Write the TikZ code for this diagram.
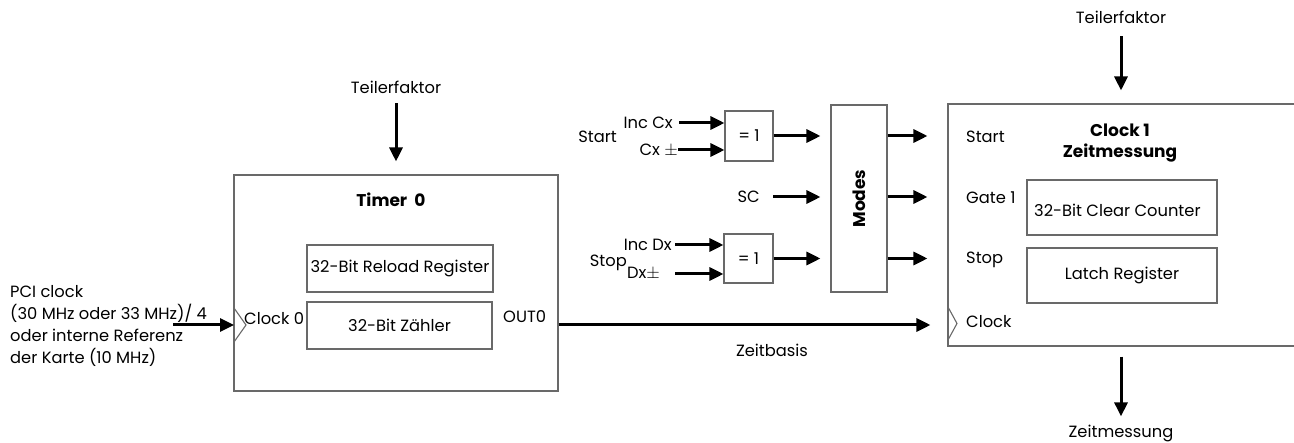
\documentclass[tikz,border=0pt]{standalone}
\usepackage{fontspec}
\setmainfont{Poppins}
\usetikzlibrary{arrows.meta,positioning}
\definecolor{frameGray}{RGB}{105,105,105}

\begin{document}
\begin{tikzpicture}[
        x=1pt, y=-1pt,
        font=\fontsize{16.3}{22}\selectfont,
        box/.style={draw=frameGray, line width=1.1pt, inner sep=0pt, align=center},
        lbl/.style={inner sep=0pt, align=left},
        title/.style={inner sep=0pt, align=center, font=\fontsize{17}{21}\selectfont\bfseries},
        arrow/.style={-{Triangle[length=14pt,width=13pt]}, line width=3pt, black}
      ]
        \useasboundingbox (0,0) rectangle (1294,443);

        \node[box, minimum width=324pt, minimum height=216pt] (timer) at (396,283) {};
        \node[title] (timerT) at (391,200) {Timer\ \ 0};
        \node[box, minimum width=186pt, minimum height=47pt] (reload) at (400,268.5) {32-Bit Reload Register};
        \node[box, minimum width=185pt, minimum height=47pt] (zaehler) at (399.5,325.5) {32-Bit Zähler};
        \node[lbl, anchor=west] (clk0) at (244,319) {Clock 0};
        \node[lbl, anchor=west] (out0) at (503,317) {OUT0};
        \node[lbl] (teilA) at (396,87) {Teilerfaktor};
        \node[lbl, anchor=west] (pci) at (10,326) {PCI clock\\(30 MHz oder 33 MHz)/ 4\\oder interne Referenz\\der Karte (10 MHz)};
        \coordinate (pciStart) at (173,325);
        \coordinate (clkIn) at (234,325);
        \draw[frameGray, line width=1.1pt] (234,308) -- (246,325) -- (234,342);

        \node[box, minimum width=48pt, minimum height=50pt] (xorA) at (749,136) {= 1};
        \node[box, minimum width=49pt, minimum height=49pt] (xorB) at (748.5,258.5) {= 1};
        \node[box, minimum width=56pt, minimum height=187pt] (modes) at (859,198.5) {};
        \node[title, rotate=90] (modesT) at (modes.center) {Modes};
        \node[lbl, anchor=east] (startL) at (617,137) {Start};
        \node[lbl, anchor=east] (incCx) at (673,123) {Inc Cx};
        \node[lbl, anchor=east] (cxPM) at (678,150) {Cx $\pm$};
        \node[lbl, anchor=east] (scL) at (760,197) {SC};
        \node[lbl, anchor=east] (stopL) at (627,263) {Stop};
        \node[lbl, anchor=east] (incDx) at (672,245) {Inc Dx};
        \node[lbl, anchor=east] (dxPM) at (660,274) {Dx$\pm$};

        \node[box, minimum width=360pt, minimum height=242pt] (clock1) at (1128,225) {};
        \node[title] (clk1T) at (1120,143.5) {Clock 1\\Zeitmessung};
        \node[lbl, anchor=west] (startR) at (966,137) {Start};
        \node[lbl, anchor=west] (gateR) at (966,198) {Gate 1};
        \node[lbl, anchor=west] (stopR) at (966,260) {Stop};
        \node[lbl, anchor=west] (clkR) at (966,322) {Clock};
        \node[box, minimum width=190pt, minimum height=55pt] (counter) at (1122,207.5) {};
        \node[lbl, anchor=west] (counterT) at (1034,210) {32-Bit Clear Counter};
        \node[box, minimum width=190pt, minimum height=55pt] (latch) at (1122,275.5) {Latch Register};
        \draw[frameGray, line width=1.1pt] (948,307) -- (957,323.5) -- (948,340);
        \node[lbl] (teilB) at (1121,17) {Teilerfaktor};
        \node[lbl] (zeitm) at (1121,433) {Zeitmessung};
        \node[lbl] (zeitbasis) at (772,350) {Zeitbasis};

        \draw[arrow, shorten <=10pt, shorten >=13pt] (teilA.south) -- (teilA.south |- timer.north);
        \draw[arrow] (pciStart) -- (clkIn);
        \draw[arrow, shorten >=17pt] (timer.east |- clkIn) -- (clock1.west |- clkIn);
        \draw[arrow] ([xshift=6pt]incCx.east) -- (incCx.east -| xorA.west);
        \draw[arrow] (cxPM.east) -- (cxPM.east -| xorA.west);
        \draw[arrow] ([xshift=3pt]incDx.east) -- (incDx.east -| xorB.west);
        \draw[arrow] ([xshift=15pt]dxPM.east) -- (dxPM.east -| xorB.west);
        \draw[arrow, shorten >=10pt] (xorA.east) -- (xorA.east -| modes.west);
        \draw[arrow, shorten >=10pt] ([xshift=13pt]scL.east) -- (scL.east -| modes.west);
        \draw[arrow, shorten >=10pt] (xorB.east) -- (xorB.east -| modes.west);
        \foreach \n in {xorA,scL,xorB}
          \draw[arrow, shorten >=20pt] (modes.east |- \n) -- (clock1.west |- \n);
        \draw[arrow, shorten <=13pt, shorten >=13pt] (teilB.south) -- (teilB.south |- clock1.north);
        \draw[arrow, shorten <=10pt, shorten >=8pt] (zeitm.north |- clock1.south) -- (zeitm.north);
      \end{tikzpicture}
\end{document}
